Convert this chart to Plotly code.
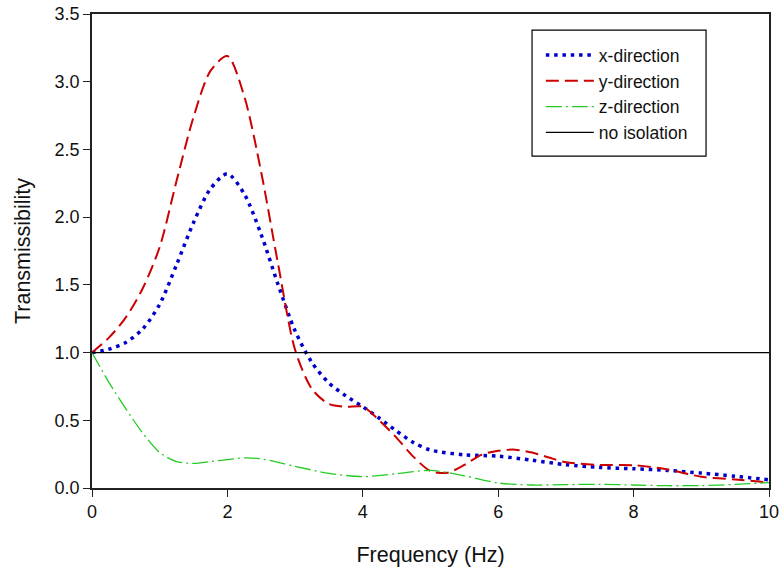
import plotly.graph_objects as go

# Transmissibility curves read per direction
freq_x = [0, 0.25, 0.5, 0.75, 1.0, 1.25, 1.5, 1.75, 2.0, 2.25, 2.5, 2.75, 3.0, 3.25,
          3.5, 3.75, 4.0, 4.25, 4.5, 4.75, 5.0, 5.5, 6.0, 6.5, 7.0, 7.5, 8.0, 8.5,
          9.0, 9.5, 10]
trans_x = [1.0, 1.025, 1.075, 1.175, 1.357, 1.65, 1.96, 2.21, 2.32, 2.17, 1.87, 1.50,
           1.16, 0.925, 0.775, 0.68, 0.60, 0.513, 0.42, 0.335, 0.28, 0.245, 0.235,
           0.205, 0.172, 0.152, 0.142, 0.13, 0.11, 0.087, 0.06]

freq_y = [0, 0.25, 0.5, 0.75, 1.0, 1.25, 1.5, 1.75, 2.0, 2.25, 2.5, 2.75, 3.0, 3.25,
          3.5, 3.75, 4.0, 4.25, 4.5, 4.75, 5.0, 5.25, 5.5, 5.75, 6.0, 6.25, 6.5,
          6.75, 7.0, 7.5, 8.0, 8.5, 9.0, 9.5, 10]
trans_y = [1.0, 1.11, 1.26, 1.475, 1.78, 2.27, 2.74, 3.08, 3.19, 2.89, 2.33, 1.65,
           1.02, 0.73, 0.62, 0.60, 0.60, 0.496, 0.37, 0.23, 0.125, 0.113, 0.17,
           0.245, 0.275, 0.283, 0.262, 0.225, 0.19, 0.17, 0.168, 0.137, 0.083,
           0.063, 0.04]

freq_z = [0, 0.25, 0.5, 0.75, 1.0, 1.25, 1.5, 1.75, 2.0, 2.25, 2.5, 3.0, 3.5, 4.0,
          4.5, 5.0, 5.5, 6.0, 6.5, 7.0, 7.5, 8.0, 8.5, 9.0, 9.5, 10]
trans_z = [1.0, 0.78, 0.585, 0.405, 0.262, 0.195, 0.182, 0.195, 0.21, 0.222, 0.215,
           0.16, 0.108, 0.084, 0.105, 0.13, 0.09, 0.037, 0.022, 0.025, 0.027, 0.022,
           0.017, 0.018, 0.027, 0.04]

freq_ref = [0, 10]
trans_ref = [1.0, 1.0]

series_names = ["x-direction", "y-direction", "z-direction", "no isolation"]

x_ticks = [0, 2, 4, 6, 8, 10]
y_ticks = [0.0, 0.5, 1.0, 1.5, 2.0, 2.5, 3.0, 3.5]

FONT = "Liberation Sans, Arial, sans-serif"

fig = go.Figure()
fig.add_trace(go.Scatter(
    x=freq_x, y=trans_x, name=series_names[0], mode="lines",
    line=dict(color="#0000cc", width=3.5, dash="3.5px,4.8px", shape="spline", smoothing=0.8),
))
fig.add_trace(go.Scatter(
    x=freq_y, y=trans_y, name=series_names[1], mode="lines",
    line=dict(color="#cc0000", width=2, dash="13px,6px", shape="spline", smoothing=0.8),
))
fig.add_trace(go.Scatter(
    x=freq_z, y=trans_z, name=series_names[2], mode="lines",
    line=dict(color="#22cc22", width=1.3, dash="16px,4px,2px,4px", shape="spline", smoothing=0.8),
))
fig.add_trace(go.Scatter(
    x=freq_ref, y=trans_ref, name=series_names[3], mode="lines",
    line=dict(color="black", width=1.2),
))

axis_common = dict(
    showline=True, linecolor="#222222", linewidth=1.5, mirror=True,
    ticks="outside", ticklen=7, tickwidth=1.2, tickcolor="#222222",
    showgrid=False, zeroline=False, automargin=False,
    tickfont=dict(family=FONT, size=18, color="#111111"),
)

# framed box behind the legend entries
legend_frame = dict(
    type="rect", xref="paper", yref="paper",
    x0=0.65, x1=0.907, y0=0.700, y1=0.966,
    line=dict(color="black", width=1.2), fillcolor="white", layer="below",
)

fig.update_layout(
    width=784, height=576,
    margin=dict(l=92, r=15, t=14, b=88),
    paper_bgcolor="white", plot_bgcolor="white",
    font=dict(family=FONT, color="#111111"),
    xaxis=dict(range=[0, 10], tickvals=x_ticks,
               title=dict(text="Frequency (Hz)", font=dict(family=FONT, size=21.5), standoff=26),
               **axis_common),
    yaxis=dict(range=[0, 3.5], tickvals=y_ticks, tickformat=".1f",
               title=dict(text="Transmissibility", font=dict(family=FONT, size=21.5), standoff=18),
               **axis_common),
    legend=dict(
        x=0.663, y=0.951, xanchor="left", yanchor="top",
        borderwidth=0, bgcolor="rgba(0,0,0,0)",
        font=dict(family=FONT, size=17.5), itemwidth=48,
    ),
    shapes=[legend_frame],
    showlegend=True,
)

fig.write_html("out.html")
